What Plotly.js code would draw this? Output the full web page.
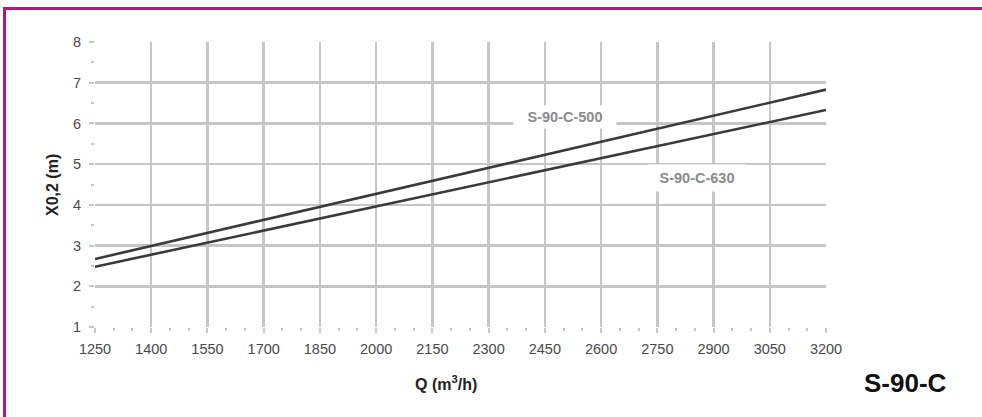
<!DOCTYPE html>
<html>
<head>
<meta charset="utf-8">
<script src="https://cdn.plot.ly/plotly-3.0.1.min.js"></script>
<style>html,body{margin:0;padding:0;background:#fff;}#chart{width:982px;height:417px;}</style>
</head>
<body>
<div id="chart"></div>
<script>
// Data
const q = [1250, 3200];
const s500 = [2.67, 6.83];
const s630 = [2.48, 6.33];
const xTicks = [1250, 1400, 1550, 1700, 1850, 2000, 2150, 2300, 2450, 2600, 2750, 2900, 3050, 3200];
const yTicks = [1, 2, 3, 4, 5, 6, 7, 8];
const seriesNames = ['S-90-C-500', 'S-90-C-630'];

const FONT = 'Liberation Sans, Arial, sans-serif';
const lineStyle = {color: '#3a3a3a', width: 2.6};
const traces = [
  {x: q, y: s500, mode: 'lines', name: seriesNames[0], line: lineStyle, hoverinfo: 'skip'},
  {x: q, y: s630, mode: 'lines', name: seriesNames[1], line: lineStyle, hoverinfo: 'skip'}
];

const grid = '#c6c6c6';
const tickFont = {family: FONT, size: 14.5, color: '#4a4a4a'};
const layout = {
  width: 982, height: 417,
  margin: {l: 95, r: 156, t: 42, b: 90},
  paper_bgcolor: '#fff', plot_bgcolor: '#fff',
  showlegend: false,
  xaxis: {
    range: [1250, 3200], tickvals: xTicks, ticktext: xTicks.map(String),
    showgrid: true, gridcolor: grid, gridwidth: 2.5,
    zeroline: false, showline: false,
    ticks: 'outside', ticklen: 5, tickwidth: 2, tickcolor: grid,
    minor: {dtick: 50, tick0: 1250, ticks: 'outside', ticklen: 3, tickwidth: 2, tickcolor: grid, showgrid: false},
    tickfont: tickFont, ticklabelstandoff: 4, fixedrange: true
  },
  yaxis: {
    range: [1, 8], tickvals: yTicks, ticktext: yTicks.map(String),
    showgrid: true, gridcolor: grid, gridwidth: 2.5,
    zeroline: false, showline: false,
    ticks: 'outside', ticklen: 5, tickwidth: 2, tickcolor: grid,
    minor: {dtick: 0.5, tick0: 1, ticks: 'outside', ticklen: 3, tickwidth: 2, tickcolor: grid, showgrid: false},
    tickfont: tickFont, ticklabelstandoff: 5, fixedrange: true
  },
  annotations: [
    {x: 2505, y: 6.15, xref: 'x', yref: 'y', xanchor: 'center', yanchor: 'middle', text: '<b>' + seriesNames[0] + '</b>', showarrow: false,
     font: {family: FONT, size: 14.5, color: '#8a8a8a'}, bgcolor: '#fff', width: 100, height: 20},
    {x: 2856, y: 4.65, xref: 'x', yref: 'y', xanchor: 'center', yanchor: 'middle', text: '<b>' + seriesNames[1] + '</b>', showarrow: false,
     font: {family: FONT, size: 14.5, color: '#8a8a8a'}, bgcolor: '#fff', width: 96, height: 24},
    {x: 446, y: 383, xref: 'paper', yref: 'paper', xanchor: 'center', yanchor: 'middle', text: '<b>Q (m<sup>3</sup>/h)</b>', showarrow: false,
     font: {family: FONT, size: 16, color: '#222'}},
    {x: 52, y: 185, xref: 'paper', yref: 'paper', xanchor: 'center', yanchor: 'middle', textangle: -90, text: '<b>X0,2 (m)</b>', showarrow: false,
     font: {family: FONT, size: 16, color: '#222'}},
    {x: 905, y: 383, xref: 'paper', yref: 'paper', xanchor: 'center', yanchor: 'middle', text: '<b>S-90-C</b>', showarrow: false,
     font: {family: FONT, size: 26, color: '#111'}}
  ],
  shapes: [
    {type: 'line', xref: 'paper', yref: 'paper', x0: 0, x1: 1, y0: 0, y1: 0, line: {color: '#b8157c', width: 3}},
    {type: 'line', xref: 'paper', yref: 'paper', x0: 0, x1: 0, y0: 0, y1: 1, line: {color: '#b8157c', width: 3}}
  ]
};

// Convert pixel-based paper positions for annotations/shapes into paper fractions
const pw = 982 - layout.margin.l - layout.margin.r;
const ph = 417 - layout.margin.t - layout.margin.b;
function px2paperX(px) { return (px - layout.margin.l) / pw; }
function px2paperY(py) { return (417 - layout.margin.b - py) / ph; }
layout.annotations.forEach(a => {
  if (a.xref === 'paper') { a.x = px2paperX(a.x); a.y = px2paperY(a.y); }
});
layout.shapes[0].x0 = px2paperX(3); layout.shapes[0].x1 = px2paperX(982);
layout.shapes[0].y0 = layout.shapes[0].y1 = px2paperY(8.5);
layout.shapes[1].x0 = layout.shapes[1].x1 = px2paperX(4.5);
layout.shapes[1].y0 = px2paperY(8.5); layout.shapes[1].y1 = px2paperY(417);

Plotly.newPlot('chart', traces, layout, {staticPlot: true, displayModeBar: false});
</script>
</body>
</html>
